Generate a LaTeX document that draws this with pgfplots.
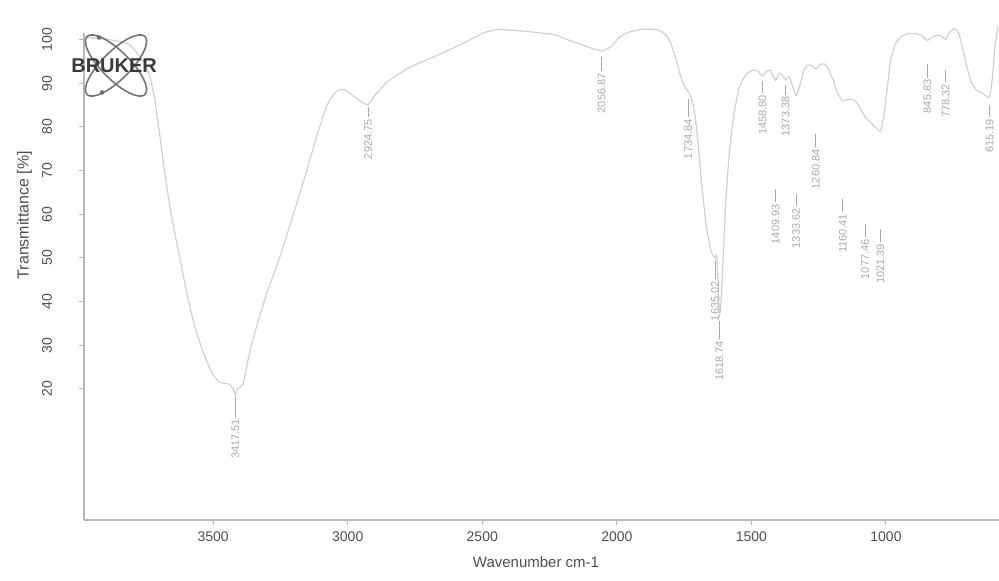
\documentclass[border=0pt]{standalone}
\usepackage{fontspec}
\setmainfont{Liberation Sans}
\usepackage{pgfplots}
\pgfplotsset{compat=1.18}
\definecolor{curvec}{HTML}{D0D0D0}
\definecolor{axc}{HTML}{B8B8B8}
\definecolor{txtc}{HTML}{4E4E4E}
\definecolor{pkc}{HTML}{A8A8A8}
\definecolor{logoc}{HTML}{3A3A3A}
\newcommand{\pk}[4]{\draw[pkc, line width=0.35pt] (axis cs:#1,#2) -- (axis cs:#1,#3) node[rotate=90, anchor=east, inner sep=0.8pt, font=\fontsize{5.5}{6}\selectfont, text=pkc] {#4};}
\begin{document}
\begin{tikzpicture}
\begin{axis}[
  scale only axis, width=457.5pt, height=243.5pt,
  x dir=reverse, xmin=580, xmax=3980, ymin=-10, ymax=101.5,
  axis x line*=bottom, axis y line*=left,
  axis line style={axc, line width=0.6pt},
  xtick={1000,1500,2000,2500,3000,3500},
  ytick={20,30,...,100},
  tick align=outside, major tick length=2.5pt,
  tick style={axc, line width=0.5pt},
  ticklabel style={font=\fontsize{7}{8}\selectfont, text=txtc},
  /pgf/number format/assume math mode=true,
  /pgf/number format/set thousands separator={},
  yticklabel style={xshift=-10pt, rotate=90, anchor=south},
  xlabel={Wavenumber cm-1},
  ylabel={Transmittance [\%]},
  xlabel style={font=\fontsize{7.5}{9}\selectfont, text=txtc, at={(axis description cs:0.494,-0.0862)}, anchor=center},
  ylabel style={font=\fontsize{8}{9}\selectfont, text=txtc, at={(axis description cs:-0.0650,0.626)}, anchor=center},
  clip=false,
]
\addplot[curvec, line width=0.6pt, smooth, tension=0.3] coordinates {
(3980,100.5) (3887,100) (3813,98.9) (3764,95.4) (3738,92) (3720,87.4)
(3701,79.4) (3679,69.1) (3656,60) (3627,50.9) (3597,41.7) (3571,34.9)
(3541,29.1) (3508,24.1) (3478,21.6) (3441,21.1) (3425,20.0) (3417.51,18.5)
(3410,20.0) (3389,21.1) (3366,28) (3336,34.9) (3299,42.2) (3255,49.7)
(3210,58.4) (3162,68) (3113,78.3) (3076,85.1) (3043,88.1) (3013,88.6)
(2987,87.4) (2955,86.0) (2924.75,85.1) (2895,87.5) (2850,90.5) (2771,93.6)
(2659,96.6) (2566,99.3) (2492,101.6) (2436,102.3) (2325,101.8) (2232,101.1)
(2176,99.8) (2120,98.6) (2090,97.9) (2056.87,97.4) (2020,98.4) (1990,100.6)
(1950,101.8) (1900,102.4) (1850,102.2) (1820,101.2) (1800,99.2) (1780,95.5)
(1760,91) (1745,88.8) (1734.84,88.2) (1722,86.5) (1710,83) (1698,76)
(1685,67) (1668,57.5) (1650,51.5) (1640,50.3) (1635.02,50) (1629,50.6)
(1624,45) (1618.74,36.8) (1613,40) (1605,50) (1595,63) (1582,74)
(1565,83) (1545,89) (1520,92) (1495,93) (1475,92.8) (1458.80,91.6)
(1445,92.6) (1430,93) (1420,91.8) (1409.93,90.6) (1398,92.3) (1385,91.8)
(1373.38,90.8) (1360,91.5) (1348,89.5) (1333.62,87.2) (1320,89.5) (1305,93)
(1290,94.2) (1275,94) (1260.84,93.3) (1245,94.3) (1228,94.4) (1212,93)
(1195,90.5) (1178,87.5) (1160.41,86) (1140,86.3) (1120,86.2) (1100,84.8)
(1077.46,82.3) (1060,81.2) (1040,80) (1021.39,79) (1008,82.5) (995,89)
(982,95.5) (965,99) (945,100.6) (920,101.3) (890,101.4) (865,100.8)
(845.83,99.8) (828,100.6) (805,101) (790,100.6) (778.32,100) (765,101.6)
(745,102.5) (730,101.5) (715,98) (700,94) (685,90.5) (665,88.5)
(645,87.8) (630,87.2) (615.19,86.8) (605,91) (595,98.5) (584,103)
};
\pk{3417.51}{18.2}{13.6}{3417.51}
\pk{2924.75}{84.5}{82.2}{2924.75}
\pk{2056.87}{96.1}{92.7}{2056.87}
\pk{1734.84}{86.3}{82.2}{1734.84}
\pk{1635.02}{49.3}{45.1}{1635.02}
\pk{1618.74}{35.5}{31.4}{1618.74}
\pk{1458.80}{90.4}{87.7}{1458.80}
\pk{1373.38}{89.7}{87.4}{1373.38}
\pk{1409.93}{65.7}{62.7}{1409.93}
\pk{1333.62}{64.6}{61.8}{1333.62}
\pk{1260.84}{78.3}{75.3}{1260.84}
\pk{1160.41}{63.4}{60.5}{1160.41}
\pk{1077.46}{57.7}{54.7}{1077.46}
\pk{1021.39}{56.6}{53.6}{1021.39}
\pk{845.83}{94.3}{91.3}{845.83}
\pk{778.32}{93.1}{90.2}{778.32}
\pk{615.19}{85.1}{82.2}{615.19}
% logo
\draw[logoc!70, line width=0.8pt, rotate around={45:(axis cs:3861,94.06)}] (axis cs:3861,94.06) ellipse (20.5pt and 7pt);
\draw[logoc!70, line width=0.8pt, rotate around={-45:(axis cs:3861,94.06)}] (axis cs:3861,94.06) ellipse (20.5pt and 7pt);
\fill[logoc!75] (axis cs:3924,100.46) circle (1.1pt);
\fill[logoc!75] (axis cs:3913,87.9) circle (1.1pt);
\node[font=\bfseries\fontsize{10}{11}\selectfont, text=logoc, inner sep=0pt] at (axis cs:3868,94.06) {BRUKER};
\coordinate (SW) at (rel axis cs:0,0);
\coordinate (NE) at (rel axis cs:1,1);
\end{axis}
\pgfresetboundingbox
\path ([shift={(-42pt,-30pt)}]SW) rectangle ([shift={(0pt,16.5pt)}]NE);
\end{tikzpicture}
\end{document}
